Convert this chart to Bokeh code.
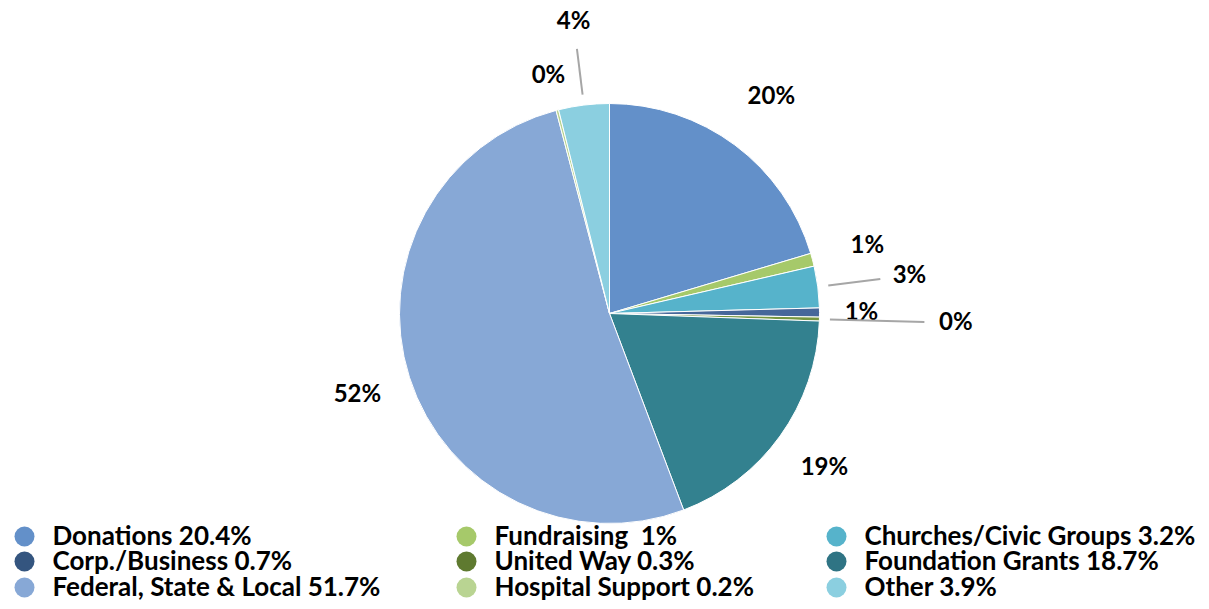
import math
from bokeh.plotting import figure
from bokeh.models import Range1d, ColumnDataSource
from bokeh.core.properties import value
from bokeh.embed import file_html
from bokeh.resources import INLINE

# ---- data ----
categories = ["Donations", "Fundraising", "Churches/Civic Groups", "Corp./Business",
              "United Way", "Foundation Grants", "Federal, State & Local",
              "Hospital Support", "Other"]
shares = [20.4, 1.0, 3.2, 0.7, 0.3, 18.7, 51.7, 0.2, 3.9]
pie_labels = ["20%", "1%", "3%", "1%", "0%", "19%", "52%", "0%", "4%"]
legend_labels = ["Donations 20.4%", "Fundraising\u00a0 1%", "Churches/Civic Groups 3.2%",
                 "Corp./Business 0.7%", "United Way 0.3%", "Foundation Grants 18.7%",
                 "Federal, State & Local 51.7%", "Hospital Support 0.2%", "Other 3.9%"]

# ---- styles / layout ----
colors = ["#6390c9", "#a6c96a", "#56b3cb", "#46679a", "#769640", "#33818f",
          "#87a8d6", "#b9d492", "#8bcfe0"]
legend_colors = ["#6390c9", "#a6c96a", "#56b3cb", "#34557f", "#5f7a30", "#2f7484",
                 "#87a8d6", "#b9d492", "#8bcfe0"]
label_k = [1.29, 1.27, 1.44, 1.20, 1.65, 1.26, 1.26, 1.17, 1.40]
leaders = {2: (1.05, 1.30), 4: (1.05, 1.50), 8: (1.05, 1.27)}
label_dy = 2

W, H = 1209, 609
cx, cy, R = 609, 296, 210
FONT = "Lato"

p = figure(width=W, height=H, output_backend="svg", toolbar_location=None,
           x_range=Range1d(0, W), y_range=Range1d(0, H), min_border=0)
p.axis.visible = False
p.grid.visible = False
p.outline_line_color = None
p.background_fill_color = "white"
p.border_fill_color = "white"

total = sum(shares)
starts, ends, mids = [], [], []
a = 90.0
for s in shares:
    span = 360.0 * s / total
    starts.append(math.radians(a - span))
    ends.append(math.radians(a))
    mids.append(a - span / 2)
    a -= span

src = ColumnDataSource(dict(start=starts, end=ends, color=colors, cat=categories))
p.wedge(x=cx, y=cy, radius=R, start_angle="start", end_angle="end",
        fill_color="color", line_color="white", line_width=1, source=src)

# labels
lx, ly = [], []
for i, m in enumerate(mids):
    ang = math.radians(m)
    lx.append(cx + R * label_k[i] * math.cos(ang))
    ly.append(cy + R * label_k[i] * math.sin(ang) + label_dy)
p.text(x=lx, y=ly, text=pie_labels, text_align="center", text_baseline="middle",
       text_font=value(FONT), text_font_style="bold", text_font_size="24px",
       text_color="black")

# leader lines
xs, ys = [], []
for i, (k0, k1) in leaders.items():
    ang = math.radians(mids[i])
    xs.append([cx + R * k0 * math.cos(ang), cx + R * k1 * math.cos(ang)])
    ys.append([cy + R * k0 * math.sin(ang), cy + R * k1 * math.sin(ang)])
p.multi_line(xs=xs, ys=ys, line_color="#a6a6a6", line_width=2)

# legend (3 columns, row-wise)
col_x = [24, 466, 836]
row_y = [75, 50, 24]
mx, my, tx, ty = [], [], [], []
for i in range(len(categories)):
    c, r = i % 3, i // 3
    mx.append(col_x[c]); my.append(row_y[r] - 2)
    tx.append(col_x[c] + 28); ty.append(row_y[r])
p.scatter(x=mx, y=my, size=20, marker="circle", fill_color=legend_colors,
          line_color=None)
p.text(x=tx, y=ty, text=legend_labels, text_align="left", text_baseline="middle",
       text_font=value(FONT), text_font_style="bold", text_font_size="26px",
       text_color="black")

open("out.html", "w").write(file_html(p, INLINE))
